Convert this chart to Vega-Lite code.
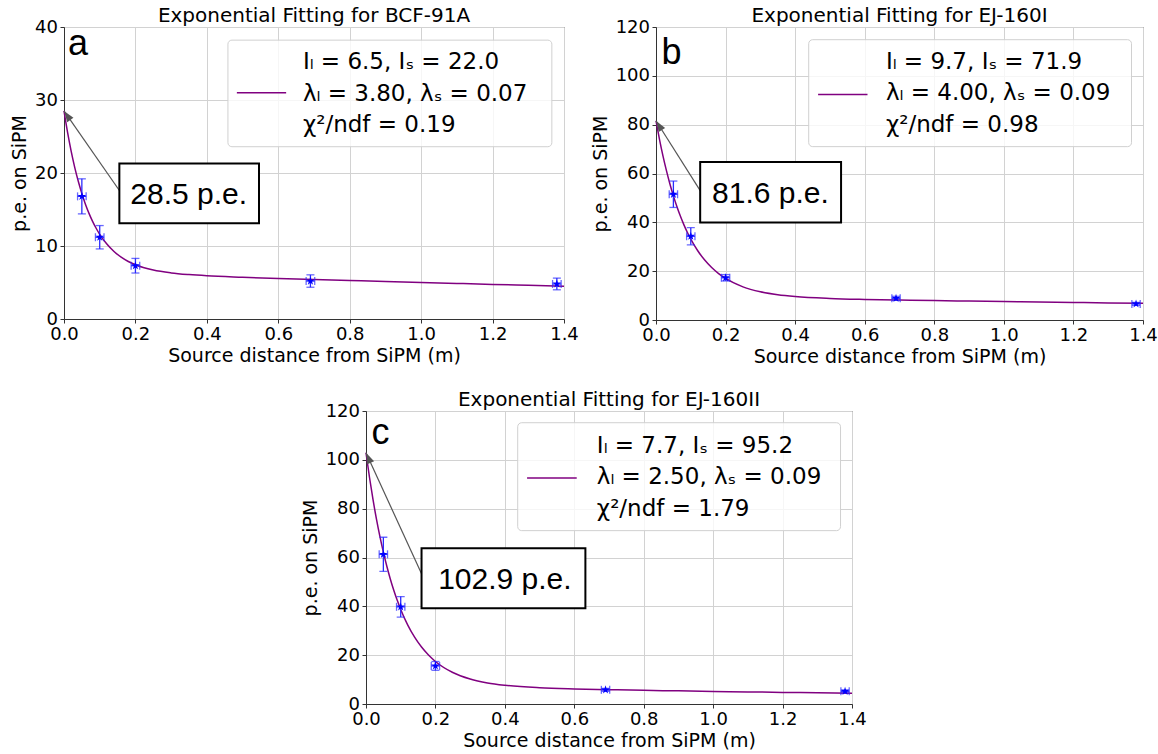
{
  "$schema": "https://vega.github.io/schema/vega-lite/v6.json",
  "padding": {"left": 10, "top": 5, "right": 0, "bottom": 0},
  "config": {
    "font": "DejaVu Sans",
    "view": {"stroke": "#333333", "strokeWidth": 1},
    "title": {"fontSize": 20, "fontWeight": "normal", "color": "#000000", "offset": -8, "font": "DejaVu Sans"},
    "axis": {"labelFontSize": 18, "titleFontSize": 19, "titleFontWeight": "normal", "labelColor": "#000000", "titleColor": "#000000", "tickColor": "#333333", "tickSize": 4, "labelPadding": 2.5, "domainColor": "#333333", "gridColor": "#d2d2d2", "gridWidth": 1, "labelFlush": false, "labelOverlap": false},
    "axisX": {"titlePadding": 3},
    "axisY": {"titlePadding": 5}
  },
  "datasets": {
    "one": [{"k": 1}],
    "points": [
      {"panel": "a", "x": 0.05, "y": 16.8, "yerr": 2.4, "xerr": 0.012},
      {"panel": "a", "x": 0.1, "y": 11.2, "yerr": 1.6, "xerr": 0.012},
      {"panel": "a", "x": 0.2, "y": 7.3, "yerr": 1.0, "xerr": 0.012},
      {"panel": "a", "x": 0.69, "y": 5.2, "yerr": 0.85, "xerr": 0.012},
      {"panel": "a", "x": 1.38, "y": 4.8, "yerr": 0.8, "xerr": 0.012},
      {"panel": "b", "x": 0.05, "y": 51.5, "yerr": 5.4, "xerr": 0.012},
      {"panel": "b", "x": 0.1, "y": 34.3, "yerr": 3.5, "xerr": 0.012},
      {"panel": "b", "x": 0.2, "y": 17.3, "yerr": 1.3, "xerr": 0.012},
      {"panel": "b", "x": 0.69, "y": 8.9, "yerr": 0.8, "xerr": 0.012},
      {"panel": "b", "x": 1.38, "y": 6.6, "yerr": 0.6, "xerr": 0.012},
      {"panel": "c", "x": 0.05, "y": 61.3, "yerr": 7.0, "xerr": 0.012},
      {"panel": "c", "x": 0.1, "y": 39.8, "yerr": 4.2, "xerr": 0.012},
      {"panel": "c", "x": 0.2, "y": 15.6, "yerr": 1.8, "xerr": 0.012},
      {"panel": "c", "x": 0.69, "y": 5.8, "yerr": 0.6, "xerr": 0.012},
      {"panel": "c", "x": 1.38, "y": 5.2, "yerr": 0.6, "xerr": 0.012}
    ],
    "fit": [
      {"panel": "a", "x": 0, "y": 28.5}, {"panel": "a", "x": 0.01, "y": 25.55}, {"panel": "a", "x": 0.02, "y": 23.0}, {"panel": "a", "x": 0.03, "y": 20.78}, {"panel": "a", "x": 0.04, "y": 18.86}, {"panel": "a", "x": 0.05, "y": 17.19}, {"panel": "a", "x": 0.06, "y": 15.73}, {"panel": "a", "x": 0.07, "y": 14.47}, {"panel": "a", "x": 0.08, "y": 13.38}, {"panel": "a", "x": 0.09, "y": 12.43}, {"panel": "a", "x": 0.1, "y": 11.6}, {"panel": "a", "x": 0.12, "y": 10.26}, {"panel": "a", "x": 0.14, "y": 9.24}, {"panel": "a", "x": 0.16, "y": 8.47}, {"panel": "a", "x": 0.18, "y": 7.88}, {"panel": "a", "x": 0.2, "y": 7.43}, {"panel": "a", "x": 0.25, "y": 6.7}, {"panel": "a", "x": 0.3, "y": 6.31}, {"panel": "a", "x": 0.35, "y": 6.08}, {"panel": "a", "x": 0.4, "y": 5.92}, {"panel": "a", "x": 0.5, "y": 5.72}, {"panel": "a", "x": 0.6, "y": 5.55}, {"panel": "a", "x": 0.7, "y": 5.41}, {"panel": "a", "x": 0.8, "y": 5.27}, {"panel": "a", "x": 0.9, "y": 5.13}, {"panel": "a", "x": 1.0, "y": 5.0}, {"panel": "a", "x": 1.1, "y": 4.87}, {"panel": "a", "x": 1.2, "y": 4.74}, {"panel": "a", "x": 1.3, "y": 4.62}, {"panel": "a", "x": 1.4, "y": 4.5},
      {"panel": "b", "x": 0, "y": 81.6}, {"panel": "b", "x": 0.01, "y": 74.01}, {"panel": "b", "x": 0.02, "y": 67.22}, {"panel": "b", "x": 0.03, "y": 61.15}, {"panel": "b", "x": 0.04, "y": 55.7}, {"panel": "b", "x": 0.05, "y": 50.83}, {"panel": "b", "x": 0.06, "y": 46.47}, {"panel": "b", "x": 0.07, "y": 42.56}, {"panel": "b", "x": 0.08, "y": 39.07}, {"panel": "b", "x": 0.09, "y": 35.93}, {"panel": "b", "x": 0.1, "y": 33.13}, {"panel": "b", "x": 0.12, "y": 28.37}, {"panel": "b", "x": 0.14, "y": 24.54}, {"panel": "b", "x": 0.16, "y": 21.47}, {"panel": "b", "x": 0.18, "y": 19.0}, {"panel": "b", "x": 0.2, "y": 17.02}, {"panel": "b", "x": 0.25, "y": 13.58}, {"panel": "b", "x": 0.3, "y": 11.56}, {"panel": "b", "x": 0.35, "y": 10.36}, {"panel": "b", "x": 0.4, "y": 9.62}, {"panel": "b", "x": 0.5, "y": 8.84}, {"panel": "b", "x": 0.6, "y": 8.44}, {"panel": "b", "x": 0.7, "y": 8.17}, {"panel": "b", "x": 0.8, "y": 7.95}, {"panel": "b", "x": 0.9, "y": 7.75}, {"panel": "b", "x": 1.0, "y": 7.55}, {"panel": "b", "x": 1.1, "y": 7.37}, {"panel": "b", "x": 1.2, "y": 7.19}, {"panel": "b", "x": 1.3, "y": 7.01}, {"panel": "b", "x": 1.4, "y": 6.84},
      {"panel": "c", "x": 0, "y": 102.9}, {"panel": "c", "x": 0.01, "y": 92.86}, {"panel": "c", "x": 0.02, "y": 83.87}, {"panel": "c", "x": 0.03, "y": 75.82}, {"panel": "c", "x": 0.04, "y": 68.62}, {"panel": "c", "x": 0.05, "y": 62.17}, {"panel": "c", "x": 0.06, "y": 56.4}, {"panel": "c", "x": 0.07, "y": 51.22}, {"panel": "c", "x": 0.08, "y": 46.6}, {"panel": "c", "x": 0.09, "y": 42.45}, {"panel": "c", "x": 0.1, "y": 38.74}, {"panel": "c", "x": 0.12, "y": 32.43}, {"panel": "c", "x": 0.14, "y": 27.37}, {"panel": "c", "x": 0.16, "y": 23.31}, {"panel": "c", "x": 0.18, "y": 20.05}, {"panel": "c", "x": 0.2, "y": 17.42}, {"panel": "c", "x": 0.25, "y": 12.89}, {"panel": "c", "x": 0.3, "y": 10.23}, {"panel": "c", "x": 0.35, "y": 8.64}, {"panel": "c", "x": 0.4, "y": 7.68}, {"panel": "c", "x": 0.5, "y": 6.67}, {"panel": "c", "x": 0.6, "y": 6.18}, {"panel": "c", "x": 0.7, "y": 5.86}, {"panel": "c", "x": 0.8, "y": 5.6}, {"panel": "c", "x": 0.9, "y": 5.38}, {"panel": "c", "x": 1.0, "y": 5.16}, {"panel": "c", "x": 1.1, "y": 4.96}, {"panel": "c", "x": 1.2, "y": 4.76}, {"panel": "c", "x": 1.3, "y": 4.58}, {"panel": "c", "x": 1.4, "y": 4.4}
    ]
  },
  "spacing": 22,
  "vconcat": [
    {
      "spacing": 11,
      "hconcat": [
        {
          "width": 500, "height": 292,
          "title": "Exponential Fitting for BCF-91A",
          "layer": [
            {"data": {"name": "fit"}, "transform": [{"filter": "datum.panel === 'a'"}],
             "mark": {"type": "line", "color": "#800080", "strokeWidth": 1.5, "interpolate": "monotone"},
             "encoding": {
               "x": {"field": "x", "type": "quantitative", "title": "Source distance from SiPM (m)", "scale": {"domain": [0, 1.4], "nice": false}, "axis": {"values": [0, 0.2, 0.4, 0.6, 0.8, 1.0, 1.2, 1.4], "format": ".1f"}},
               "y": {"field": "y", "type": "quantitative", "title": "p.e. on SiPM", "scale": {"domain": [0, 40], "nice": false}, "axis": {"values": [0, 10, 20, 30, 40]}}
             }},
            {"data": {"name": "points"}, "transform": [{"filter": "datum.panel === 'a'"}],
             "mark": {"type": "errorbar", "color": "#2a2aff", "thickness": 1.3, "ticks": {"size": 8}},
             "encoding": {"x": {"field": "x", "type": "quantitative", "title": "Source distance from SiPM (m)"}, "y": {"field": "y", "type": "quantitative", "title": "p.e. on SiPM"}, "yError": {"field": "yerr"}}},
            {"data": {"name": "points"}, "transform": [{"filter": "datum.panel === 'a'"}],
             "mark": {"type": "errorbar", "color": "#2a2aff", "thickness": 1.3, "ticks": {"size": 8}},
             "encoding": {"x": {"field": "x", "type": "quantitative", "title": "Source distance from SiPM (m)"}, "xError": {"field": "xerr"}, "y": {"field": "y", "type": "quantitative", "title": "p.e. on SiPM"}}},
            {"data": {"name": "points"}, "transform": [{"filter": "datum.panel === 'a'"}],
             "mark": {"type": "point", "filled": true, "color": "#0000ff", "opacity": 1, "size": 80, "shape": "M0,-1L0.22,-0.31L0.95,-0.31L0.36,0.12L0.59,0.81L0,0.38L-0.59,0.81L-0.36,0.12L-0.95,-0.31L-0.22,-0.31Z"},
             "encoding": {"x": {"field": "x", "type": "quantitative", "title": "Source distance from SiPM (m)"}, "y": {"field": "y", "type": "quantitative", "title": "p.e. on SiPM"}}},
            {"data": {"name": "one"},
             "mark": {"type": "rect", "fill": "#ffffff", "fillOpacity": 0.8, "stroke": "#d0d0d0", "strokeWidth": 1, "cornerRadius": 4},
             "encoding": {"x": {"datum": 0.459}, "x2": {"datum": 1.366}, "y": {"datum": 38.2}, "y2": {"datum": 23.6}}},
            {"data": {"name": "one"},
             "mark": {"type": "rule", "color": "#800080", "strokeWidth": 1.5},
             "encoding": {"x": {"datum": 0.484}, "x2": {"datum": 0.622}, "y": {"datum": 31.0}}},
            {"data": {"name": "one"},
             "mark": {"type": "text", "text": ["Iₗ = 6.5, Iₛ = 22.0", "λₗ = 3.80, λₛ = 0.07", "χ²/ndf = 0.19"], "fontSize": 23, "lineHeight": 31.5, "align": "left", "baseline": "alphabetic", "color": "#000000"},
             "encoding": {"x": {"datum": 0.669}, "y": {"datum": 34.2}}},
            {"data": {"name": "one"},
             "mark": {"type": "rule", "color": "#555555", "strokeWidth": 1.2},
             "encoding": {"x": {"datum": 0.158}, "y": {"datum": 17.4}, "x2": {"datum": 0}, "y2": {"datum": 28.5}}},
            {"data": {"name": "one"},
             "mark": {"type": "point", "filled": true, "color": "#555555", "opacity": 1, "size": 190, "angle": 325, "shape": "M0,0L-0.55,1.6L0.55,1.6Z"},
             "encoding": {"x": {"datum": 0}, "y": {"datum": 28.5}}},
            {"data": {"name": "one"},
             "mark": {"type": "rect", "fill": "#ffffff", "stroke": "#000000", "strokeWidth": 2},
             "encoding": {"x": {"datum": 0.155}, "x2": {"datum": 0.546}, "y": {"datum": 21.3}, "y2": {"datum": 13.1}}},
            {"data": {"name": "one"},
             "mark": {"type": "text", "text": "28.5 p.e.", "font": "Liberation Sans", "fontSize": 30, "align": "center", "baseline": "alphabetic", "color": "#000000"},
             "encoding": {"x": {"datum": 0.349}, "y": {"datum": 15.75}}},
            {"data": {"name": "one"},
             "mark": {"type": "text", "text": "a", "font": "Liberation Sans", "fontSize": 36, "align": "left", "baseline": "alphabetic", "color": "#000000"},
             "encoding": {"x": {"datum": 0.011}, "y": {"datum": 36.2}}}
          ]
        },
        {
          "width": 487, "height": 293,
          "title": "Exponential Fitting for EJ-160I",
          "layer": [
            {"data": {"name": "fit"}, "transform": [{"filter": "datum.panel === 'b'"}],
             "mark": {"type": "line", "color": "#800080", "strokeWidth": 1.5, "interpolate": "monotone"},
             "encoding": {
               "x": {"field": "x", "type": "quantitative", "title": "Source distance from SiPM (m)", "scale": {"domain": [0, 1.4], "nice": false}, "axis": {"values": [0, 0.2, 0.4, 0.6, 0.8, 1.0, 1.2, 1.4], "format": ".1f"}},
               "y": {"field": "y", "type": "quantitative", "title": "p.e. on SiPM", "scale": {"domain": [0, 120], "nice": false}, "axis": {"values": [0, 20, 40, 60, 80, 100, 120]}}
             }},
            {"data": {"name": "points"}, "transform": [{"filter": "datum.panel === 'b'"}],
             "mark": {"type": "errorbar", "color": "#2a2aff", "thickness": 1.3, "ticks": {"size": 8}},
             "encoding": {"x": {"field": "x", "type": "quantitative", "title": "Source distance from SiPM (m)"}, "y": {"field": "y", "type": "quantitative", "title": "p.e. on SiPM"}, "yError": {"field": "yerr"}}},
            {"data": {"name": "points"}, "transform": [{"filter": "datum.panel === 'b'"}],
             "mark": {"type": "errorbar", "color": "#2a2aff", "thickness": 1.3, "ticks": {"size": 8}},
             "encoding": {"x": {"field": "x", "type": "quantitative", "title": "Source distance from SiPM (m)"}, "xError": {"field": "xerr"}, "y": {"field": "y", "type": "quantitative", "title": "p.e. on SiPM"}}},
            {"data": {"name": "points"}, "transform": [{"filter": "datum.panel === 'b'"}],
             "mark": {"type": "point", "filled": true, "color": "#0000ff", "opacity": 1, "size": 80, "shape": "M0,-1L0.22,-0.31L0.95,-0.31L0.36,0.12L0.59,0.81L0,0.38L-0.59,0.81L-0.36,0.12L-0.95,-0.31L-0.22,-0.31Z"},
             "encoding": {"x": {"field": "x", "type": "quantitative", "title": "Source distance from SiPM (m)"}, "y": {"field": "y", "type": "quantitative", "title": "p.e. on SiPM"}}},
            {"data": {"name": "one"},
             "mark": {"type": "rect", "fill": "#ffffff", "fillOpacity": 0.8, "stroke": "#d0d0d0", "strokeWidth": 1, "cornerRadius": 4},
             "encoding": {"x": {"datum": 0.439}, "x2": {"datum": 1.367}, "y": {"datum": 114.8}, "y2": {"datum": 71.0}}},
            {"data": {"name": "one"},
             "mark": {"type": "rule", "color": "#800080", "strokeWidth": 1.5},
             "encoding": {"x": {"datum": 0.466}, "x2": {"datum": 0.608}, "y": {"datum": 92.4}}},
            {"data": {"name": "one"},
             "mark": {"type": "text", "text": ["Iₗ = 9.7, Iₛ = 71.9", "λₗ = 4.00, λₛ = 0.09", "χ²/ndf = 0.98"], "fontSize": 23, "lineHeight": 31.5, "align": "left", "baseline": "alphabetic", "color": "#000000"},
             "encoding": {"x": {"datum": 0.661}, "y": {"datum": 102.8}}},
            {"data": {"name": "one"},
             "mark": {"type": "rule", "color": "#555555", "strokeWidth": 1.2},
             "encoding": {"x": {"datum": 0.128}, "y": {"datum": 52.8}, "x2": {"datum": 0}, "y2": {"datum": 81.6}}},
            {"data": {"name": "one"},
             "mark": {"type": "point", "filled": true, "color": "#555555", "opacity": 1, "size": 190, "angle": 327.5, "shape": "M0,0L-0.55,1.6L0.55,1.6Z"},
             "encoding": {"x": {"datum": 0}, "y": {"datum": 81.6}}},
            {"data": {"name": "one"},
             "mark": {"type": "rect", "fill": "#ffffff", "stroke": "#000000", "strokeWidth": 2},
             "encoding": {"x": {"datum": 0.127}, "x2": {"datum": 0.532}, "y": {"datum": 64.7}, "y2": {"datum": 39.9}}},
            {"data": {"name": "one"},
             "mark": {"type": "text", "text": "81.6 p.e.", "font": "Liberation Sans", "fontSize": 30, "align": "center", "baseline": "alphabetic", "color": "#000000"},
             "encoding": {"x": {"datum": 0.329}, "y": {"datum": 47.8}}},
            {"data": {"name": "one"},
             "mark": {"type": "text", "text": "b", "font": "Liberation Sans", "fontSize": 36, "align": "left", "baseline": "alphabetic", "color": "#000000"},
             "encoding": {"x": {"datum": 0.016}, "y": {"datum": 104.7}}}
          ]
        }
      ]
    },
    {
      "spacing": 0,
      "hconcat": [
        {
          "width": 236, "height": 10,
          "view": {"stroke": null},
          "data": {"name": "one"},
          "mark": {"type": "point", "opacity": 0, "size": 1},
          "encoding": {}
        },
        {
          "width": 486, "height": 293,
          "title": "Exponential Fitting for EJ-160II",
          "layer": [
            {"data": {"name": "fit"}, "transform": [{"filter": "datum.panel === 'c'"}],
             "mark": {"type": "line", "color": "#800080", "strokeWidth": 1.5, "interpolate": "monotone"},
             "encoding": {
               "x": {"field": "x", "type": "quantitative", "title": "Source distance from SiPM (m)", "scale": {"domain": [0, 1.4], "nice": false}, "axis": {"values": [0, 0.2, 0.4, 0.6, 0.8, 1.0, 1.2, 1.4], "format": ".1f"}},
               "y": {"field": "y", "type": "quantitative", "title": "p.e. on SiPM", "scale": {"domain": [0, 120], "nice": false}, "axis": {"values": [0, 20, 40, 60, 80, 100, 120]}}
             }},
            {"data": {"name": "points"}, "transform": [{"filter": "datum.panel === 'c'"}],
             "mark": {"type": "errorbar", "color": "#2a2aff", "thickness": 1.3, "ticks": {"size": 8}},
             "encoding": {"x": {"field": "x", "type": "quantitative", "title": "Source distance from SiPM (m)"}, "y": {"field": "y", "type": "quantitative", "title": "p.e. on SiPM"}, "yError": {"field": "yerr"}}},
            {"data": {"name": "points"}, "transform": [{"filter": "datum.panel === 'c'"}],
             "mark": {"type": "errorbar", "color": "#2a2aff", "thickness": 1.3, "ticks": {"size": 8}},
             "encoding": {"x": {"field": "x", "type": "quantitative", "title": "Source distance from SiPM (m)"}, "xError": {"field": "xerr"}, "y": {"field": "y", "type": "quantitative", "title": "p.e. on SiPM"}}},
            {"data": {"name": "points"}, "transform": [{"filter": "datum.panel === 'c'"}],
             "mark": {"type": "point", "filled": true, "color": "#0000ff", "opacity": 1, "size": 80, "shape": "M0,-1L0.22,-0.31L0.95,-0.31L0.36,0.12L0.59,0.81L0,0.38L-0.59,0.81L-0.36,0.12L-0.95,-0.31L-0.22,-0.31Z"},
             "encoding": {"x": {"field": "x", "type": "quantitative", "title": "Source distance from SiPM (m)"}, "y": {"field": "y", "type": "quantitative", "title": "p.e. on SiPM"}}},
            {"data": {"name": "one"},
             "mark": {"type": "rect", "fill": "#ffffff", "fillOpacity": 0.8, "stroke": "#d0d0d0", "strokeWidth": 1, "cornerRadius": 4},
             "encoding": {"x": {"datum": 0.437}, "x2": {"datum": 1.367}, "y": {"datum": 115.2}, "y2": {"datum": 71.0}}},
            {"data": {"name": "one"},
             "mark": {"type": "rule", "color": "#800080", "strokeWidth": 1.5},
             "encoding": {"x": {"datum": 0.464}, "x2": {"datum": 0.607}, "y": {"datum": 92.6}}},
            {"data": {"name": "one"},
             "mark": {"type": "text", "text": ["Iₗ = 7.7, Iₛ = 95.2", "λₗ = 2.50, λₛ = 0.09", "χ²/ndf = 1.79"], "fontSize": 23, "lineHeight": 31.5, "align": "left", "baseline": "alphabetic", "color": "#000000"},
             "encoding": {"x": {"datum": 0.665}, "y": {"datum": 102.8}}},
            {"data": {"name": "one"},
             "mark": {"type": "rule", "color": "#555555", "strokeWidth": 1.2},
             "encoding": {"x": {"datum": 0.164}, "y": {"datum": 52.1}, "x2": {"datum": 0}, "y2": {"datum": 102.9}}},
            {"data": {"name": "one"},
             "mark": {"type": "point", "filled": true, "color": "#555555", "opacity": 1, "size": 190, "angle": 335, "shape": "M0,0L-0.55,1.6L0.55,1.6Z"},
             "encoding": {"x": {"datum": 0}, "y": {"datum": 102.9}}},
            {"data": {"name": "one"},
             "mark": {"type": "rect", "fill": "#ffffff", "stroke": "#000000", "strokeWidth": 2},
             "encoding": {"x": {"datum": 0.16}, "x2": {"datum": 0.632}, "y": {"datum": 63.8}, "y2": {"datum": 39.2}}},
            {"data": {"name": "one"},
             "mark": {"type": "text", "text": "102.9 p.e.", "font": "Liberation Sans", "fontSize": 30, "align": "center", "baseline": "alphabetic", "color": "#000000"},
             "encoding": {"x": {"datum": 0.4}, "y": {"datum": 47.0}}},
            {"data": {"name": "one"},
             "mark": {"type": "text", "text": "c", "font": "Liberation Sans", "fontSize": 36, "align": "left", "baseline": "alphabetic", "color": "#000000"},
             "encoding": {"x": {"datum": 0.016}, "y": {"datum": 106.5}}}
          ]
        }
      ]
    }
  ]
}
